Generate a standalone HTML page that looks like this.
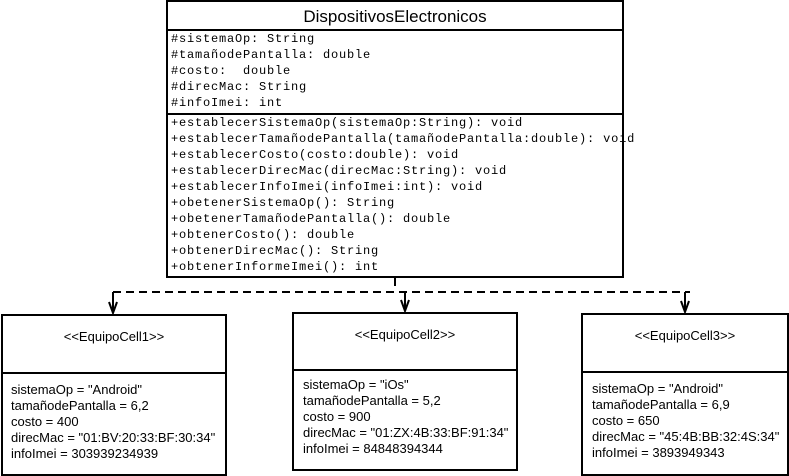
<!DOCTYPE html>
<html><head><meta charset="utf-8"><style>
body{margin:0;width:789px;height:476px;background:#fff;position:relative;overflow:hidden}
.b{position:absolute;border:2px solid #000;box-sizing:border-box;background:#fff}
.m{position:absolute;font-family:"Liberation Mono",monospace;font-size:12px;letter-spacing:0.8px;line-height:16px;white-space:pre;left:3px}
.s{position:absolute;font-family:"Liberation Sans",sans-serif;font-size:13px;line-height:16px;white-space:pre}
.h{position:absolute;left:0;right:0;border-top:2px solid #000}
</style></head><body>
<div class="b" style="left:166px;top:0;width:458px;height:278px">
 <div class="s" style="left:0;right:0;top:5px;text-align:center;font-size:17px;line-height:20px">DispositivosElectronicos</div>
 <div class="h" style="top:27px"></div>
 <div class="m" style="top:29px">#sistemaOp: String
#tamañodePantalla: double
#costo:  double
#direcMac: String
#infoImei: int</div>
 <div class="h" style="top:111px"></div>
 <div class="m" style="top:113px">+establecerSistemaOp(sistemaOp:String): void
+establecerTamañodePantalla(tamañodePantalla:double): void
+establecerCosto(costo:double): void
+establecerDirecMac(direcMac:String): void
+establecerInfoImei(infoImei:int): void
+obetenerSistemaOp(): String
+obetenerTamañodePantalla(): double
+obtenerCosto(): double
+obtenerDirecMac(): String
+obtenerInformeImei(): int</div>
</div>
<svg style="position:absolute;left:0;top:0" width="789" height="476">
 <line x1="395" y1="277" x2="395" y2="286" stroke="#000" stroke-width="2"/>
 <line x1="113" y1="292" x2="690" y2="292" stroke="#000" stroke-width="2" stroke-dasharray="8,5"/>
 <g stroke="#000" stroke-width="2" fill="none">
  <line x1="113" y1="292" x2="113" y2="313"/><polyline points="109,302 113,313 117,302"/>
  <line x1="405" y1="292" x2="405" y2="311"/><polyline points="401,300 405,311 409,300"/>
  <line x1="685" y1="292" x2="685" y2="312"/><polyline points="681,301 685,312 689,301"/>
 </g>
</svg>
<div class="b" style="left:1px;top:314px;width:226px;height:162px">
 <div class="s" style="left:0;right:0;top:13px;text-align:center">&lt;&lt;EquipoCell1&gt;&gt;</div>
 <div class="h" style="top:56px"></div>
 <div class="s" style="left:8px;top:66px">sistemaOp = "Android"
tamañodePantalla = 6,2
costo = 400
direcMac = "01:BV:20:33:BF:30:34"
infoImei = 303939234939</div>
</div>
<div class="b" style="left:292px;top:312px;width:226px;height:159px">
 <div class="s" style="left:0;right:0;top:13px;text-align:center">&lt;&lt;EquipoCell2&gt;&gt;</div>
 <div class="h" style="top:55px"></div>
 <div class="s" style="left:9px;top:63px">sistemaOp = "iOs"
tamañodePantalla = 5,2
costo = 900
direcMac = "01:ZX:4B:33:BF:91:34"
infoImei = 84848394344</div>
</div>
<div class="b" style="left:581px;top:313px;width:208px;height:163px">
 <div class="s" style="left:0;right:0;top:13px;text-align:center">&lt;&lt;EquipoCell3&gt;&gt;</div>
 <div class="h" style="top:56px"></div>
 <div class="s" style="left:9px;top:66px">sistemaOp = "Android"
tamañodePantalla = 6,9
costo = 650
direcMac = "45:4B:BB:32:4S:34"
infoImei = 3893949343</div>
</div>
</body></html>
